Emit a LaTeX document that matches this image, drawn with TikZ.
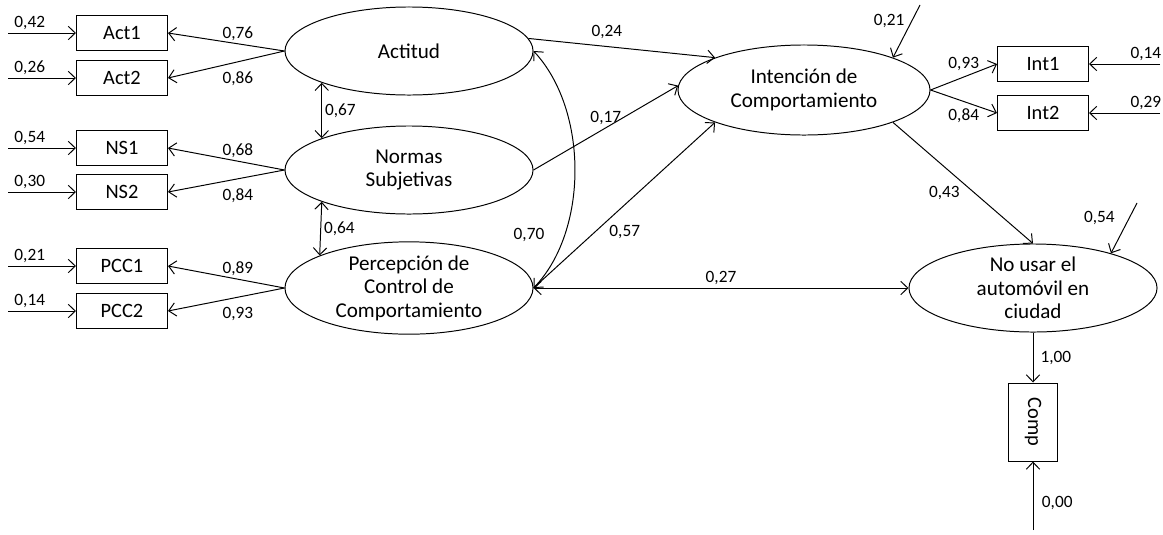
\documentclass[tikz,border=0pt]{standalone}
\usepackage{fontspec}
\setmainfont{Carlito}
\usetikzlibrary{positioning,arrows.meta,shapes.geometric,calc}

\begin{document}
\begin{tikzpicture}[
  x=0.025cm, y=-0.025cm,
  line width=0.7pt,
  latent/.style={draw, ellipse, inner sep=0pt, minimum width=6.2cm, minimum height=2.2cm, align=center, font=\fontsize{15}{16.8}\selectfont},
  obs/.style={draw, rectangle, inner sep=0pt, minimum width=2.275cm, minimum height=0.875cm, font=\fontsize{14.5}{17}\selectfont},
  arr/.style={-{Straight Barb[length=5pt,width=9.5pt]}},
  dbl/.style={{Straight Barb[length=5pt,width=9.5pt]}-{Straight Barb[length=5pt,width=9.5pt]}},
  lbl/.style={font=\fontsize{12.3}{14}\selectfont, inner sep=2pt}
]
\useasboundingbox (0,0) rectangle (1163,534);
% latent variables
\node[latent] (act) at (409,51) {Actitud};
\node[latent] (ns) at (409,170) {Normas\\Subjetivas};
\node[latent] (pcc) at (409,288) {Percepción de\\Control de\\Comportamiento};
\node[latent, minimum width=6.3cm, minimum height=2.25cm] (int) at (804,90) {Intención de\\Comportamiento};
\node[latent] (nu) at (1033,288) {No usar el\\automóvil en\\ciudad};
% indicators
\node[obs] (act1) at (122,33) {Act1};
\node[obs] (act2) at (122,78) {Act2};
\node[obs] (ns1) at (122,148) {NS1};
\node[obs] (ns2) at (122,192) {NS2};
\node[obs] (pcc1) at (122,266) {PCC1};
\node[obs] (pcc2) at (122,311) {PCC2};
\node[obs] (int1) at (1043,64) {Int1};
\node[obs] (int2) at (1043,113) {Int2};
\node[obs, minimum width=1.225cm, minimum height=1.95cm] (comp) at (1033,422) {\rotatebox{-90}{Comp}};
% error terms
\coordinate (eact1) at (8,33);
\coordinate (eact2) at (8,78);
\coordinate (ens1) at (8,148);
\coordinate (ens2) at (8,192);
\coordinate (epcc1) at (8,266);
\coordinate (epcc2) at (8,311);
\coordinate (eint1) at (1160,64);
\coordinate (eint2) at (1160,113);
\coordinate (eint) at (920,5);
\coordinate (enu) at (1137,203);
\coordinate (ecomp) at (1033,530);
\draw[arr] (eact1) -- node[lbl, above, pos=0.32] {0,42} (act1);
\draw[arr] (eact2) -- node[lbl, above, pos=0.32] {0,26} (act2);
\draw[arr] (ens1) -- node[lbl, above, pos=0.32] {0,54} (ns1);
\draw[arr] (ens2) -- node[lbl, above, pos=0.32] {0,30} (ns2);
\draw[arr] (epcc1) -- node[lbl, above, pos=0.32] {0,21} (pcc1);
\draw[arr] (epcc2) -- node[lbl, above, pos=0.32] {0,14} (pcc2);
\draw[arr] (eint1) -- node[lbl, above, pos=0.2] {0,14} (int1);
\draw[arr] (eint2) -- node[lbl, above, pos=0.2] {0,29} (int2);
\draw[arr] (eint) -- node[lbl, left=3pt, pos=0.3] {0,21} (int.20);
\draw[arr] (enu) -- node[lbl, left=8pt, pos=0.3] {0,54} (nu.24);
\draw[arr] (ecomp) -- node[lbl, right=4pt, pos=0.4] {0,00} (comp);
% loadings
\draw[arr] (act.west) -- node[lbl, above, pos=0.4] {0,76} (act1.east);
\draw[arr] (act.west) -- node[lbl, below=5pt, pos=0.4] {0,86} (act2.east);
\draw[arr] (ns.west) -- node[lbl, above, pos=0.4] {0,68} (ns1.east);
\draw[arr] (ns.west) -- node[lbl, below=5pt, pos=0.4] {0,84} (ns2.east);
\draw[arr] (pcc.west) -- node[lbl, above, pos=0.4] {0,89} (pcc1.east);
\draw[arr] (pcc.west) -- node[lbl, below=5pt, pos=0.4] {0,93} (pcc2.east);
\draw[arr] (int.east) -- node[lbl, above=2pt, pos=0.5] {0,93} (int1.west);
\draw[arr] (int.east) -- node[lbl, below=3pt, pos=0.5] {0,84} (int2.west);
\draw[arr] (nu) -- node[lbl, right=3pt, pos=0.5] {1,00} (comp);
% correlations
\draw[dbl] (act.200) -- node[lbl, right] {0,67} (ns.160);
\draw[dbl] (ns.200) -- node[lbl, right] {0,64} (pcc.160);
\draw[dbl] (pcc.east) .. controls +(55,-57) and +(55,59) .. node[lbl, left=12pt, pos=0.25] {0,70} (act.east);
\draw[dbl] (pcc.east) -- node[lbl, above] {0,27} (nu.west);
% structural paths
\draw[arr] (act.6) -- node[lbl, above=3pt, pos=0.42] {0,24} (int.160);
\draw[arr] (ns.east) -- node[lbl, above, pos=0.5] {0,17} (int.178);
\draw[arr] (pcc.east) -- node[lbl, below right, pos=0.4] {0,57} (int.200);
\draw[arr] (int.-20) -- node[lbl, below left, pos=0.5] {0,43} (nu.north);
\end{tikzpicture}
\end{document}
